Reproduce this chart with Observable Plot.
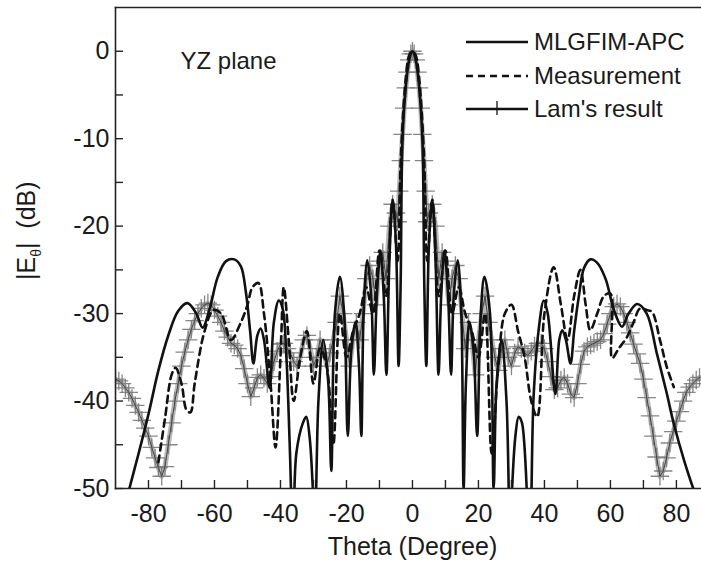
<!DOCTYPE html>
<html><head><meta charset="utf-8">
<script src="https://cdn.jsdelivr.net/npm/d3@7"></script>
<script src="https://cdn.jsdelivr.net/npm/@observablehq/plot@0.6"></script>
<style>
html,body{margin:0;padding:0;background:#fff;overflow:hidden}
#wrap{position:relative;width:701px;height:570px}
#legend{position:absolute;left:0;top:0}
</style></head><body><div id="wrap"></div>
<script>
const seriesNames = ["MLGFIM-APC", "Measurement", "Lam's result"];
const xMajorTicks = [-80, -60, -40, -20, 0, 20, 40, 60, 80];
const xMinorTicks = [-70, -50, -30, -10, 10, 30, 50, 70];
const yMajorTicks = [0, -10, -20, -30, -40, -50];
const yMinorTicks = [-5, -15, -25, -35, -45];
const xLabel = "Theta (Degree)";
const yLabel = "|Eθ|  (dB)";
const planeLabel = "YZ plane";

// MLGFIM-APC (solid)
const simTheta = [-86.5,-83,-80,-77,-74,-71,-68.2,-65.5,-63.6,-61.5,-59,-56.5,-54,-52,-50.5,-49.2,-48.2,-47,-46,-45,-43.3,-42,-40.5,-39.3,-38.2,-37.2,-36.2,-35.2,-33.2,-32.2,-31.2,-30.2,-29.6,-28.5,-27,-25.5,-24.6,-23.5,-22,-20.7,-19.6,-18.5,-17.3,-16.2,-15.5,-14.8,-13.7,-12.5,-11.7,-10.8,-9.7,-8.7,-7.9,-7,-6,-5,-4.2,-3.6,-3,-2,-1,0,1,2,3,3.6,4.2,5,6,7,7.9,8.7,9.7,10.8,11.7,12.5,13.7,14.8,15.5,16.2,17.3,18.5,19.6,20.7,21.8,23.5,24.6,25.5,27,28.5,29.6,30.2,31.2,32.2,33.2,35.5,36.7,38.2,39.8,41,43.3,44.5,45.4,46.5,47.9,49,50.4,52,53.9,56,58.5,61,63.5,65.5,68.1,71,74.1,77,79.2,82.5,86];
const simDb = [-51,-46,-41.5,-36.5,-32.5,-29.7,-28.8,-30,-31.6,-29.5,-25.8,-24,-23.8,-24.6,-27.5,-32,-35.7,-32.5,-31.7,-33,-38.5,-31,-28.5,-29.5,-35,-45,-56,-46,-42.5,-41.8,-44,-50,-56,-40,-33,-38,-48,-30,-25.8,-30,-44,-34,-31,-36,-44,-30,-23.9,-28,-37,-28,-22.8,-28,-37,-24,-17,-22,-36,-27,-10,-4,-1,0,-1,-4,-10,-27,-36,-22,-17,-24,-37,-28,-22.8,-28,-37,-28,-23.9,-30,-50,-38,-31,-34,-44,-30,-25.8,-30,-50,-38,-33,-40,-56,-50,-44,-41.8,-42.5,-56,-39.6,-32,-28.5,-30,-39.2,-33,-31.9,-33,-35.7,-32,-28.1,-24.8,-23.8,-24.2,-26,-29.5,-31.5,-30,-28.9,-30,-34.6,-39,-42.6,-47,-51];

// Measurement (dashed)
const measTheta = [-77,-75,-73,-71.8,-70,-68.5,-67.3,-66,-63,-60.3,-58,-55,-52,-50,-48.5,-46.7,-45,-43,-41.5,-40,-39,-37.5,-36,-34,-32,-30,-28,-26,-24,-22,-20,-18,-16,-14,-12,-10,-8,-6,-4.5,-3.5,-2,-1,0,1,2,3.5,4.5,6,8,10,12,14,16,18,20,22,24,26,28,30,32,34,36,37.8,40,42.8,45,47,49,50.9,52.5,53.9,56,58,60,60.5,62.5,65,67,69,71,72.6,75,77,79.2];
const measDb = [-47,-42,-37,-36.2,-38,-41,-41.3,-38,-32,-29.6,-30,-33,-31,-29,-27,-26.5,-30,-38,-45.3,-35,-27,-33,-40,-35,-32,-38,-34,-36,-45,-30,-35,-32,-30,-27,-30,-22.8,-28,-17,-24,-12,-3,-0.5,0,-0.5,-3,-12,-24,-17,-28,-22.8,-30,-27,-30,-32,-35,-30,-46,-36,-30,-29,-32,-35,-40,-41.8,-30,-24.7,-29,-33,-28,-25,-29,-31.9,-30,-28,-27.7,-35.1,-34,-32.7,-31,-29.4,-29.6,-29.8,-33,-36,-38.4];

// Lam's result (+ markers)
const lamTheta = [-90,-89,-88,-87,-86,-85,-84,-83,-82,-81,-80,-79,-78,-77,-76,-75,-74,-73,-72,-71,-70,-69,-68,-67,-66,-65,-64,-63,-62,-61,-60,-59,-58,-57,-56,-55,-54,-53,-52,-51,-50,-49,-48,-47,-46,-45,-44,-43,-42,-41,-40,-39,-38,-37,-36,-35,-34,-33,-32,-31,-30,-29,-28,-27,-26,-25,-24,-23,-22,-21,-20,-19,-18,-17,-16,-15,-14,-13,-12,-11,-10,-9,-8,-7,-6,-5,-4.5,-4,-3.5,-3,-2.5,-2,-1.5,-1,-0.5,0,0.5,1,1.5,2,2.5,3,3.5,4,4.5,5,6,7,8,9,10,11,12,13,14,15,16,17,18,19,20,21,22,23,24,25,26,27,28,29,30,31,32,33,34,35,36,37,38,39,40,41,42,43,44,45,46,47,48,49,50,51,52,53,54,55,56,57,58,59,60,61,62,63,64,65,66,67,68,69,70,71,72,73,74,75,76,77,78,79,80,81,82,83,84,85,86,87];
const lamDb = [-37.5,-37.7,-38,-38.5,-39,-39.7,-40.5,-41.3,-42.2,-43.1,-44,-45.3,-46.5,-47.6,-48.6,-47.5,-45,-42.5,-40,-38,-36,-34.4,-33,-31.8,-30.8,-30,-29.4,-29,-28.8,-29,-29.6,-30.3,-31,-32,-32.7,-33.4,-33.6,-34,-34.8,-36.3,-38,-39.5,-38.5,-37.3,-37,-37.4,-38,-37.2,-35.5,-34.3,-33.5,-33.4,-34,-34.5,-35.5,-36,-35,-33,-32.5,-34,-36,-35,-33,-34,-36,-34.5,-33,-31,-28,-30,-33,-36,-33,-31,-33,-30,-26,-24.5,-26,-29,-24,-23,-26,-20,-17.5,-18.5,-19.5,-16,-12.5,-9.5,-6.5,-4.2,-2.4,-1,-0.3,0,-0.3,-1,-2.4,-4.2,-6.5,-9.5,-12.5,-16,-19.5,-18.5,-17.5,-20,-26,-23,-24,-29,-26,-24.5,-26,-30,-34,-31,-33,-37,-33,-30,-28,-31,-33,-35,-36.5,-34,-33,-35,-36,-34.5,-33.8,-34,-34.5,-34.8,-34.3,-33.7,-33.4,-33.4,-34,-35.5,-37.2,-38.7,-38.5,-37.6,-37.3,-38,-39.2,-39.6,-38,-35.8,-34.3,-33.8,-33.6,-33.4,-33.2,-33,-32.3,-31.2,-30,-29.2,-28.9,-29.2,-30,-31,-32.2,-33.5,-34.6,-35.7,-37.5,-39.6,-41.7,-44,-46.4,-48.6,-48,-46.5,-44.8,-43.5,-42.3,-41.2,-40,-39,-38.4,-38,-37.6,-37.3];

const sim = simTheta.map((t, i) => ({theta: t, db: simDb[i]}));
const meas = measTheta.map((t, i) => ({theta: t, db: measDb[i]}));
const lam = lamTheta.map((t, i) => ({theta: t, db: lamDb[i]}));

const font = "'Liberation Sans', Arial, Helvetica, sans-serif";

const chart = Plot.plot({
  width: 701,
  height: 570,
  marginLeft: 115,
  marginRight: 0,
  marginTop: 7,
  marginBottom: 82,
  style: {fontFamily: font, fontSize: "25px", color: "#1a1a1a", background: "#fff"},
  x: {domain: [-90, 87.6]},
  y: {domain: [-50, 5]},
  marks: [
    Plot.line(lam, {x: "theta", y: "db", stroke: "#a8a8a8", strokeWidth: 5, strokeOpacity: 0.8, clip: true}),
    Plot.dot(lam, {x: "theta", y: "db", symbol: "plus", r: 6, stroke: "#7a7a7a", strokeWidth: 1.3, strokeOpacity: 0.9, clip: true}),
    Plot.line(lam, {x: "theta", y: "db", stroke: "#444", strokeWidth: 1, clip: true}),
    Plot.line(meas, {x: "theta", y: "db", stroke: "#111", strokeWidth: 2.6, strokeDasharray: "7,5", curve: "catmull-rom", clip: true}),
    Plot.line(sim, {x: "theta", y: "db", stroke: "#111", strokeWidth: 2.6, curve: "catmull-rom", clip: true}),
    Plot.frame({anchor: "left", stroke: "#222", strokeWidth: 1.6}),
    Plot.frame({anchor: "bottom", stroke: "#222", strokeWidth: 1.6}),
    Plot.frame({anchor: "top", stroke: "#222", strokeWidth: 1.6}),
    Plot.axisX({ticks: [...xMajorTicks, ...xMinorTicks], tickSize: -8, tickFormat: () => "", stroke: "#222", strokeWidth: 1.4, label: null}),
    Plot.axisX({ticks: xMajorTicks, tickSize: 0, tickPadding: 16, fontSize: 25, tickFormat: d => String(d), label: null}),
    Plot.axisY({ticks: [...yMajorTicks, ...yMinorTicks], tickSize: -8, tickFormat: () => "", stroke: "#222", strokeWidth: 1.4, label: null}),
    Plot.axisY({ticks: yMajorTicks, tickSize: 0, tickPadding: 6, fontSize: 25, tickFormat: d => String(d), label: null}),
    Plot.text([xLabel], {frameAnchor: "bottom", dy: 66, dx: 4, fontSize: 25, text: d => d}),
    Plot.text([yLabel], {frameAnchor: "left", dx: -89, dy: 32, rotate: -90, fontSize: 25, text: d => d}),
    Plot.text([planeLabel], {frameAnchor: "top-left", dx: 65, dy: 61, textAnchor: "start", lineAnchor: "bottom", fontSize: 24, text: d => d})
  ]
});

document.getElementById("wrap").appendChild(chart);

// subscript theta in the y label
d3.select(chart).selectAll("text").filter(function() { return this.textContent === yLabel; })
  .each(function() {
    const t = d3.select(this);
    t.text("");
    t.append("tspan").text("|E");
    t.append("tspan").attr("font-size", 14).attr("dy", 6).text("θ");
    t.append("tspan").attr("dy", -6).text("|  (dB)");
  });

// legend overlay
const leg = d3.select("#wrap").append("svg").attr("id", "legend")
  .attr("width", 701).attr("height", 140)
  .style("font-family", font);
const rowY = [42, 76, 109];
seriesNames.forEach((name, i) => {
  const g = leg.append("g").attr("transform", `translate(0,${rowY[i]})`);
  g.append("line").attr("x1", 466).attr("x2", 528).attr("y1", 0).attr("y2", 0)
    .attr("stroke", "#111").attr("stroke-width", 2.6)
    .attr("stroke-dasharray", i === 1 ? "7,5" : null);
  if (i === 2) g.append("line").attr("x1", 497).attr("x2", 497).attr("y1", -8).attr("y2", 6)
    .attr("stroke", "#111").attr("stroke-width", 1.3);
  g.append("text").attr("x", 534).attr("y", 8).attr("font-size", 24).attr("fill", "#1a1a1a").text(name);
});
</script></body></html>
